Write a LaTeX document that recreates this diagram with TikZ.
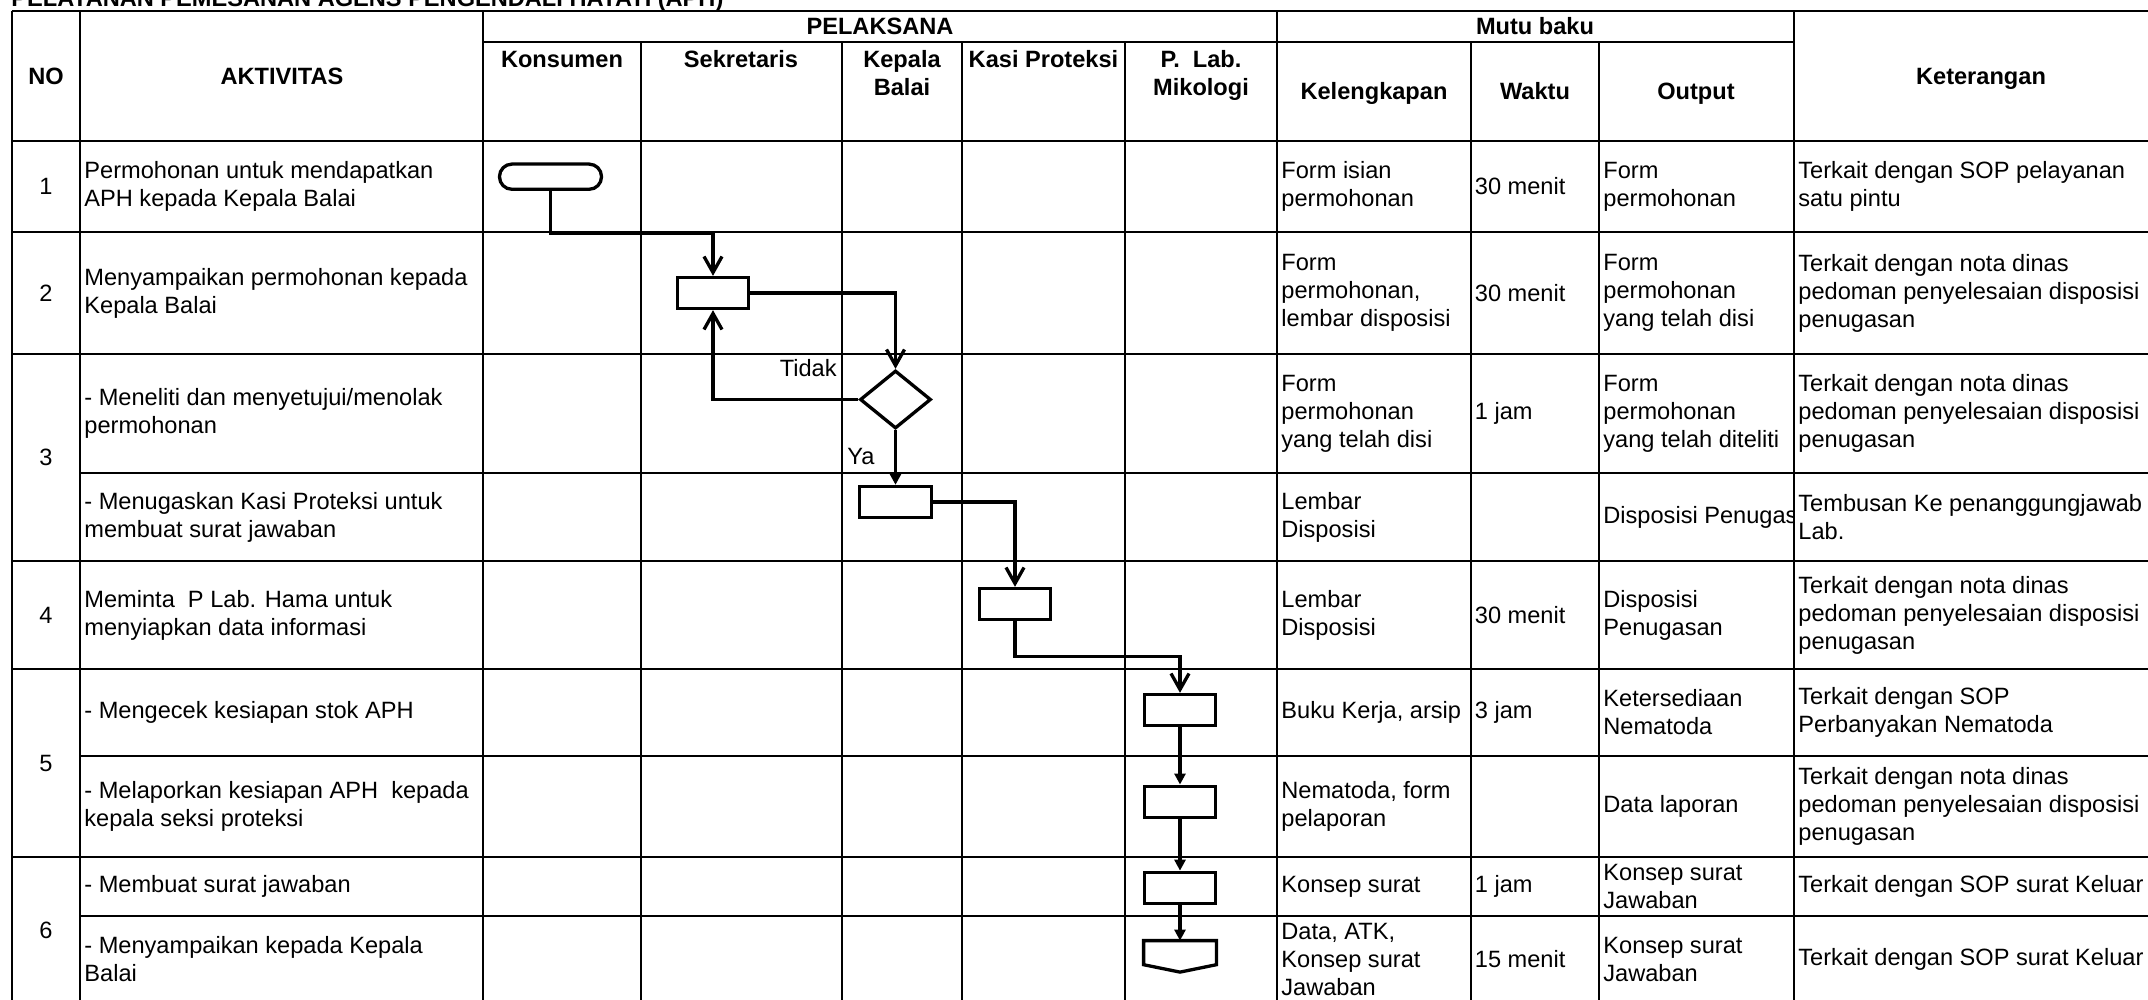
\documentclass[tikz,border=0pt]{standalone}
\usepackage{fontspec}
\setmainfont{Liberation Sans}
\usetikzlibrary{arrows.meta,shapes.geometric}
\newcommand\cellfnt{\fontsize{11.8pt}{14pt}\selectfont}
\newcommand\hdrfnt{\fontsize{11.8pt}{14pt}\selectfont\bfseries}
\begin{document}
\begin{tikzpicture}[x=0.5pt,y=-0.5pt,
  grid/.style={line width=1pt},
  thickgrid/.style={line width=1.4pt},
  cell/.style={anchor=west,align=left,inner sep=0pt,font=\cellfnt},
  num/.style={anchor=center,inner sep=0pt,font=\cellfnt},
  hdr/.style={anchor=base,inner sep=0pt,font=\hdrfnt},
  proc/.style={draw,line width=1.65pt,rectangle,minimum width=35.7pt,minimum height=15.5pt,inner sep=0pt},
  flow/.style={line width=1.65pt},
  openarr/.style={flow,-{Straight Barb[length=8pt,width=9pt]}},
  fillarr/.style={flow,-{Triangle[length=5.5pt,width=5.5pt]}},
]
\useasboundingbox (0,0) rectangle (2148,1000);
\clip (0,0) rectangle (2148,1000);
\fill[white] (0,0) rectangle (2148,1000);

% ---------- grid ----------
\foreach \x in {11.6,80.4,483.4,1277,1794} \draw[grid] (\x,11) -- (\x,1010);
\foreach \x in {641,841.6,962,1125,1470.5,1599} \draw[grid] (\x,41.7) -- (\x,1010);
\draw[thickgrid] (11.6,11) -- (2160,11);
\draw[grid] (483.4,41.7) -- (1794,41.7);
\draw[thickgrid] (11.6,141) -- (2160,141);
\foreach \y in {232,354,561,669,857} \draw[grid] (11.6,\y) -- (2160,\y);
\foreach \y in {472.7,756,916} \draw[grid] (80.4,\y) -- (2160,\y);

% ---------- title & headers ----------
\node[anchor=base west,inner sep=0pt,font=\hdrfnt] (title) at (11,7) {PELAYANAN PEMESANAN AGENS PENGENDALI HAYATI (APH)};
\node[hdr] (hNO) at (46,84.5) {NO};
\node[hdr] (hAkt) at (282,84.5) {AKTIVITAS};
\node[hdr] (hPel) at (880,34.5) {PELAKSANA};
\node[hdr] (hKons) at (562,68) {Konsumen};
\node[hdr] (hSek) at (741,68) {Sekretaris};
\node[hdr] (hKep1) at (902,68) {Kepala};
\node[hdr] (hKep2) at (902,96) {Balai};
\node[hdr] (hKasi) at (1043.5,68) {Kasi Proteksi};
\node[hdr] (hLab1) at (1201,68) {P.\ \ Lab.};
\node[hdr] (hLab2) at (1201,96) {Mikologi};
\node[hdr] (hMutu) at (1535,34.5) {Mutu baku};
\node[hdr] (hKel) at (1374,100) {Kelengkapan};
\node[hdr] (hWak) at (1535,100) {Waktu};
\node[hdr] (hOut) at (1696,100) {Output};
\node[hdr] (hKet) at (1981,84.5) {Keterangan};

% ---------- row numbers ----------
\node[num] (n1) at (46,186.5) {1};
\node[num] (n2) at (46,293) {2};
\node[num] (n3) at (46,457.5) {3};
\node[num] (n4) at (46,615) {4};
\node[num] (n5) at (46,763) {5};
\node[num] (n6) at (46,930) {6};

% ---------- row 1 ----------
\node[cell] (a1) at (84,186.5) {Permohonan untuk mendapatkan\\APH kepada Kepala Balai};
\node[cell] (k1) at (1281,186.5) {Form isian\\permohonan};
\node[cell] (w1) at (1474.5,186.5) {30 menit};
\node[cell] (o1) at (1603,186.5) {Form\\permohonan};
\node[cell] (t1) at (1798,186.5) {Terkait dengan SOP pelayanan\\satu pintu};
% ---------- row 2 ----------
\node[cell] (a2) at (84,293) {Menyampaikan permohonan kepada\\Kepala Balai};
\node[cell] (k2) at (1281,293) {Form\\permohonan,\\lembar disposisi};
\node[cell] (w2) at (1474.5,293) {30 menit};
\node[cell] (o2) at (1603,293) {Form\\permohonan\\yang telah disi};
\node[cell] (t2) at (1798,293) {Terkait dengan nota dinas\\pedoman penyelesaian disposisi\\penugasan};
% ---------- row 3a ----------
\node[cell] (a3a) at (84,413.4) {- Meneliti dan menyetujui/menolak\\permohonan};
\node[cell] (k3a) at (1281,413.4) {Form\\permohonan\\yang telah disi};
\node[cell] (w3a) at (1474.5,413.4) {1 jam};
\node[cell] (o3a) at (1603,413.4) {Form\\permohonan\\yang telah diteliti};
\node[cell] (t3a) at (1798,413.4) {Terkait dengan nota dinas\\pedoman penyelesaian disposisi\\penugasan};
% ---------- row 3b ----------
\node[cell] (a3b) at (84,517) {- Menugaskan Kasi Proteksi untuk\\membuat surat jawaban};
\node[cell] (k3b) at (1281,517) {Lembar\\Disposisi};
\begin{scope}
\clip (1599,472.7) rectangle (1794,561);
\node[cell] (o3b) at (1603,517) {Disposisi Penugasan};
\end{scope}
\node[cell] (t3b) at (1798,517) {Tembusan Ke penanggungjawab\\Lab.};
% ---------- row 4 ----------
\node[cell] (a4) at (84,615) {Meminta~ P Lab. Hama untuk\\menyiapkan data informasi};
\node[cell] (k4) at (1281,615) {Lembar\\Disposisi};
\node[cell] (w4) at (1474.5,615) {30 menit};
\node[cell] (o4) at (1603,615) {Disposisi\\Penugasan};
\node[cell] (t4) at (1798,615) {Terkait dengan nota dinas\\pedoman penyelesaian disposisi\\penugasan};
% ---------- row 5a ----------
\node[cell] (a5a) at (84,712.5) {- Mengecek kesiapan stok APH};
\node[cell] (k5a) at (1281,712.5) {Buku Kerja, arsip};
\node[cell] (w5a) at (1474.5,712.5) {3 jam};
\node[cell] (o5a) at (1603,712.5) {Ketersediaan\\Nematoda};
\node[cell] (t5a) at (1798,712.5) {Terkait dengan SOP\\Perbanyakan Nematoda};
% ---------- row 5b ----------
\node[cell] (a5b) at (84,806.5) {- Melaporkan kesiapan APH~ kepada\\kepala seksi proteksi};
\node[cell] (k5b) at (1281,806.5) {Nematoda, form\\pelaporan};
\node[cell] (o5b) at (1603,806.5) {Data laporan};
\node[cell] (t5b) at (1798,806.5) {Terkait dengan nota dinas\\pedoman penyelesaian disposisi\\penugasan};
% ---------- row 6a ----------
\node[cell] (a6a) at (84,886.5) {- Membuat surat jawaban};
\node[cell] (k6a) at (1281,886.5) {Konsep surat};
\node[cell] (w6a) at (1474.5,886.5) {1 jam};
\node[cell] (o6a) at (1603,886.5) {Konsep surat\\Jawaban};
\node[cell] (t6a) at (1798,886.5) {Terkait dengan SOP surat Keluar};
% ---------- row 6b ----------
\node[cell] (a6b) at (84,959.5) {- Menyampaikan kepada Kepala\\Balai};
\node[cell] (k6b) at (1281,959.5) {Data, ATK,\\Konsep surat\\Jawaban};
\node[cell] (w6b) at (1474.5,959.5) {15 menit};
\node[cell] (o6b) at (1603,959.5) {Konsep surat\\Jawaban};
\node[cell] (t6b) at (1798,959.5) {Terkait dengan SOP surat Keluar};

% ---------- flowchart shapes ----------
\node[draw,line width=1.65pt,rounded corners=6.2pt,minimum width=51pt,minimum height=12.6pt,inner sep=0pt] (term) at (550.5,176.7) {};
\node[proc] (b2) at (713,293) {};
\node[draw,diamond,line width=1.65pt,minimum width=35.5pt,minimum height=29pt,inner sep=0pt] (dia) at (895.5,399.5) {};
\node[proc] (b3) at (895.5,502) {};
\node[proc] (b4) at (1015,604) {};
\node[proc] (b5a) at (1180,710) {};
\node[proc] (b5b) at (1180,801.7) {};
\node[proc] (b6a) at (1180,887.8) {};
\node[minimum width=36pt,minimum height=15.35pt,inner sep=0pt] (b6b) at (1180,956.35) {};
\draw[flow] (b6b.north west) -- (b6b.north east) -- ([yshift=3.7pt]b6b.south east) -- (b6b.south) -- ([yshift=3.7pt]b6b.south west) -- cycle;

\node[anchor=base east,inner sep=0pt,font=\cellfnt] (tidak) at (837,377) {Tidak};
\node[anchor=base west,inner sep=0pt,font=\cellfnt] (ya) at (847,464) {Ya};

% ---------- connectors ----------
\coordinate (j1) at (550.5,233);
\coordinate (j2) at (1015,656.7);
\draw[openarr] (term.south) -- (j1) -| (b2.north);
\draw[openarr] (b2.east) -| (dia.north);
\draw[openarr] (dia.west) -| (b2.south);
\draw[fillarr] (dia.south) -- (b3.north);
\draw[openarr] (b3.east) -| (b4.north);
\draw[openarr] (b4.south) -- (j2) -| (b5a.north);
\draw[fillarr] (b5a.south) -- (b5b.north);
\draw[fillarr] (b5b.south) -- (b6a.north);
\draw[fillarr] (b6a.south) -- (b6b.north);
\end{tikzpicture}
\end{document}
